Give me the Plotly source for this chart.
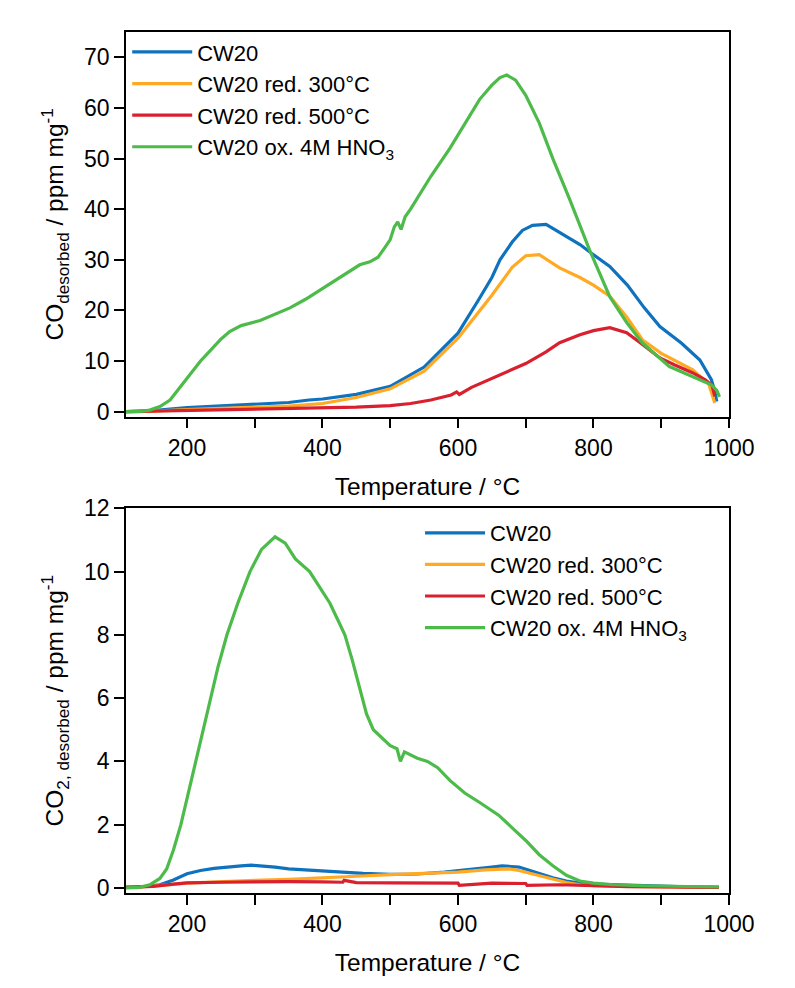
import plotly.graph_objects as go

# ---------------- data: CO (top panel) ----------------
co_T_blue = [110,150,200,250,300,350,380,400,450,500,550,600,630,650,662,670,680,695,710,730,750,780,800,824,850,875,898,930,957,974,979,982]
co_blue = [0,0.2,0.8,1.1,1.4,1.8,2.3,2.5,3.4,5.0,8.8,15.5,22,26.5,30,31.5,33.5,35.8,36.8,37,35.4,33,31,28.7,25,20.5,16.8,13.5,10.2,6.3,4.0,2.0]

co_T_orange = [110,150,200,250,300,350,400,450,500,550,600,650,680,700,720,750,780,800,824,850,872,900,946,970,979]
co_orange = [0,0.1,0.4,0.6,0.8,1.1,1.6,2.8,4.5,8,14.5,23,28.5,30.8,31,28.4,26.5,25,22.8,18.5,14.2,11.5,8.3,5.5,1.7]

co_T_red = [110,150,200,250,300,350,400,450,500,530,560,590,598,602,620,650,680,700,730,750,780,800,824,849,870,898,920,946,965,975,979]
co_red = [0,0.1,0.3,0.4,0.5,0.6,0.7,0.9,1.2,1.6,2.3,3.3,3.9,3.4,4.8,6.5,8.3,9.5,11.8,13.6,15.2,16.0,16.6,15.6,13.5,10.6,9.2,7.7,6.3,5.2,3.0]

co_T_green = [110,130,145,160,175,190,204,220,234,250,263,280,308,330,352,375,396,420,440,455,470,482,492,500,506,511,516,522,530,544,560,588,610,632,650,662,672,685,700,720,740,765,794,824,849,872,912,946,974,982,986]
co_green = [0,0,0.3,1.0,2.3,4.8,7.3,10,12,14.3,15.8,17,18,19.2,20.5,22.2,24,26,27.8,29,29.6,30.5,32.4,34,36.5,37.5,36,38.5,40,43,46.5,52,57,61.7,64.5,66,66.5,65.5,62.5,57,50,41.9,32,22.7,17.6,13.6,8.9,6.9,5.3,4.2,2.9]

# ---------------- data: CO2 (bottom panel) ----------------
co2_T_blue = [110,140,160,180,200,220,240,260,280,295,310,330,350,380,420,460,500,540,580,620,650,665,675,690,705,720,740,760,780,800,850,900,950,985]
co2_blue = [0.03,0.05,0.1,0.25,0.45,0.55,0.62,0.67,0.7,0.72,0.7,0.66,0.6,0.56,0.5,0.46,0.43,0.44,0.5,0.58,0.66,0.7,0.69,0.66,0.56,0.45,0.32,0.22,0.15,0.12,0.1,0.06,0.03,0.02]

co2_T_orange = [110,150,200,250,300,350,400,450,500,550,600,640,660,675,690,705,720,740,760,780,800,850,900,985]
co2_orange = [0.02,0.06,0.15,0.2,0.24,0.27,0.31,0.37,0.42,0.45,0.5,0.57,0.6,0.6,0.55,0.47,0.38,0.27,0.17,0.1,0.07,0.05,0.03,0.02]

co2_T_red = [110,150,180,200,250,300,350,400,430,432,450,500,550,600,602,650,700,702,750,800,850,900,985]
co2_red = [0.02,0.05,0.12,0.16,0.18,0.2,0.2,0.19,0.18,0.24,0.17,0.16,0.16,0.15,0.08,0.15,0.14,0.08,0.1,0.06,0.04,0.03,0.02]

co2_T_green = [110,130,145,160,170,180,191,202,213,224,234,246,259,275,293,310,330,345,360,381,396,411,422,433,444,455,465,475,490,500,510,515,521,530,540,555,570,588,610,632,660,680,700,720,740,760,780,800,830,870,920,985]
co2_green = [0,0.02,0.1,0.3,0.6,1.2,2.0,3.0,4.0,5.0,6.0,7.0,8.0,9.0,10.0,10.7,11.1,10.9,10.4,10.0,9.5,9.0,8.5,8.0,7.2,6.3,5.5,5.0,4.7,4.5,4.4,4.0,4.3,4.2,4.1,4.0,3.8,3.4,3.0,2.7,2.3,1.9,1.5,1.05,0.7,0.4,0.22,0.15,0.1,0.07,0.05,0.03]

names = ["CW20", "CW20 red. 300°C", "CW20 red. 500°C", "CW20 ox. 4M HNO<sub>3</sub>"]
colors = ["#0F72BE", "#FFAA22", "#D9202E", "#4DBB4A"]

x_tickvals = [200, 300, 400, 500, 600, 700, 800, 900, 1000]
x_ticktext = ["200", "", "400", "", "600", "", "800", "", "1000"]

FONT = "Arial, Liberation Sans, sans-serif"
TITLE_SIZE = 24.5

fig = go.Figure()

top_sets = [(co_T_blue, co_blue), (co_T_orange, co_orange), (co_T_red, co_red), (co_T_green, co_green)]
bot_sets = [(co2_T_blue, co2_blue), (co2_T_orange, co2_orange), (co2_T_red, co2_red), (co2_T_green, co2_green)]

for i, (xs, ys) in enumerate(top_sets):
    fig.add_trace(go.Scatter(x=xs, y=ys, mode="lines", name=names[i],
                             line=dict(color=colors[i], width=3.2),
                             xaxis="x", yaxis="y", legend="legend",
                             legendgroup="t%d" % i))
for i, (xs, ys) in enumerate(bot_sets):
    fig.add_trace(go.Scatter(x=xs, y=ys, mode="lines", name=names[i],
                             line=dict(color=colors[i], width=3.2),
                             xaxis="x2", yaxis="y2", legend="legend2",
                             legendgroup="b%d" % i))

axis_common = dict(showline=True, linecolor="black", linewidth=1.5, mirror=True,
                   ticks="outside", ticklen=10, tickwidth=1.5, tickcolor="black",
                   showgrid=False, zeroline=False,
                   tickfont=dict(family=FONT, size=23, color="black"))

xaxis_common = dict(axis_common, range=[110, 1000], tickvals=x_tickvals, ticktext=x_ticktext,
                    title=dict(text="Temperature / °C", font=dict(family=FONT, size=TITLE_SIZE, color="black"),
                               standoff=18))

fig.update_layout(
    width=795, height=988,
    margin=dict(l=126, r=66, t=32, b=95),
    paper_bgcolor="white", plot_bgcolor="white",
    font=dict(family=FONT, size=23, color="black"),
    xaxis=dict(xaxis_common, domain=[0, 1], anchor="y"),
    yaxis=dict(axis_common, domain=[0.5532, 1], anchor="x", range=[-1, 75], dtick=10,
               title=dict(text="CO<sub>desorbed</sub> / ppm mg<sup>-1</sup>",
                          font=dict(family=FONT, size=TITLE_SIZE, color="black"), standoff=13)),
    xaxis2=dict(xaxis_common, domain=[0, 1], anchor="y2"),
    yaxis2=dict(axis_common, domain=[0, 0.4468], anchor="x2", range=[-0.16, 12], dtick=2,
                title=dict(text="CO<sub>2, desorbed</sub> / ppm mg<sup>-1</sup>",
                           font=dict(family=FONT, size=TITLE_SIZE, color="black"), standoff=13)),
    legend=dict(x=0.002, y=1.001, xanchor="left", yanchor="top",
                font=dict(family=FONT, size=22, color="black"),
                bgcolor="rgba(0,0,0,0)", itemwidth=60, tracegroupgap=0),
    legend2=dict(x=0.4876, y=0.4425, xanchor="left", yanchor="top",
                 font=dict(family=FONT, size=22, color="black"),
                 bgcolor="rgba(0,0,0,0)", itemwidth=60, tracegroupgap=0),
)

fig.write_html("out.html")
